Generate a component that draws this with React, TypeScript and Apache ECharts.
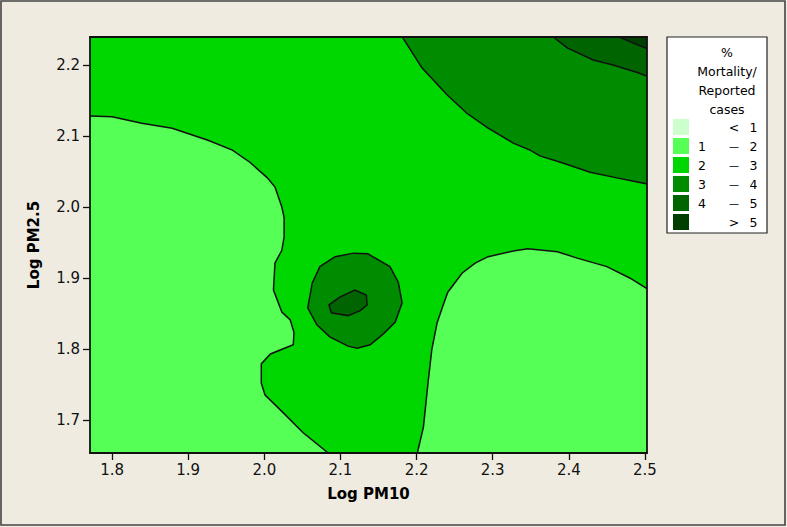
import React, { useEffect, useRef } from "react";
import * as echarts from "echarts";

// ---- axes ----
const xTicks = [1.8, 1.9, 2.0, 2.1, 2.2, 2.3, 2.4, 2.5];
const yTicks = [1.7, 1.8, 1.9, 2.0, 2.1, 2.2];
const xRange = [1.771, 2.5027];
const yRange = [1.6535, 2.2394];
const xTitle = "Log PM10";
const yTitle = "Log PM2.5";

// ---- contour levels (legend) ----
const levelColors = ["#CCFFCC", "#55FF55", "#00D600", "#008C00", "#006400", "#003F00"];
const legendLow = ["", "1", "2", "3", "4", ""];
const legendOp = ["<", "—", "—", "—", "—", ">"];
const legendHigh = ["1", "2", "3", "4", "5", "5"];
const legendTitle = ["%", "Mortality/", "Reported", "cases"];

// ---- contour regions, [Log PM10, Log PM2.5] boundary vertices ----
const domainLevel23 = [[1.70, 1.60], [2.60, 1.60], [2.60, 2.30], [1.70, 2.30]];
const leftLevel12 = [
  [1.75, 2.129], [1.800, 2.127], [1.839, 2.118], [1.879, 2.111], [1.926, 2.094],
  [1.958, 2.080], [1.981, 2.063], [2.004, 2.041], [2.014, 2.028], [2.023, 2.000],
  [2.026, 1.985], [2.026, 1.958], [2.023, 1.939], [2.014, 1.921], [2.012, 1.883],
  [2.023, 1.852], [2.034, 1.841], [2.039, 1.823], [2.038, 1.806], [2.008, 1.793],
  [1.996, 1.779], [1.996, 1.752], [2.001, 1.735], [2.025, 1.710], [2.051, 1.682],
  [2.084, 1.6535], [2.094, 1.645], [1.75, 1.645],
];
const rightLevel12 = [
  [2.198, 1.645], [2.201, 1.6535], [2.209, 1.690], [2.215, 1.752], [2.220, 1.799],
  [2.227, 1.837], [2.235, 1.862], [2.241, 1.880], [2.260, 1.907], [2.277, 1.921],
  [2.294, 1.930], [2.327, 1.938], [2.346, 1.941], [2.385, 1.937], [2.411, 1.928],
  [2.450, 1.916], [2.480, 1.900], [2.510, 1.880], [2.510, 1.645],
];
const topLevel34 = [
  [2.175, 2.25], [2.207, 2.196], [2.240, 2.158], [2.266, 2.132], [2.294, 2.111],
  [2.327, 2.090], [2.349, 2.080], [2.362, 2.072], [2.392, 2.062], [2.428, 2.049],
  [2.463, 2.041], [2.510, 2.031], [2.510, 2.25],
];
const topLevel45 = [
  [2.367, 2.25], [2.398, 2.224], [2.432, 2.207], [2.458, 2.200], [2.491, 2.189],
  [2.510, 2.181], [2.510, 2.25],
];
const topLevel5 = [[2.446, 2.25], [2.467, 2.239], [2.491, 2.228], [2.510, 2.220], [2.510, 2.25]];
const centerLevel34 = [
  [2.057, 1.858], [2.063, 1.893], [2.073, 1.916], [2.093, 1.930], [2.117, 1.935],
  [2.136, 1.934], [2.165, 1.916], [2.176, 1.894], [2.181, 1.865], [2.172, 1.838],
  [2.156, 1.821], [2.139, 1.806], [2.122, 1.801], [2.110, 1.804], [2.086, 1.817],
  [2.069, 1.834],
];
const centerLevel45 = [
  [2.085, 1.862], [2.099, 1.873], [2.119, 1.883], [2.134, 1.876], [2.135, 1.862],
  [2.126, 1.854], [2.110, 1.847], [2.088, 1.851],
];

const regions = [
  { pts: domainLevel23, level: 2, stroke: false },
  { pts: leftLevel12, level: 1, stroke: true },
  { pts: rightLevel12, level: 1, stroke: true },
  { pts: topLevel34, level: 3, stroke: true },
  { pts: topLevel45, level: 4, stroke: true },
  { pts: topLevel5, level: 5, stroke: true },
  { pts: centerLevel34, level: 3, stroke: true },
  { pts: centerLevel45, level: 4, stroke: true },
];

const FONT = "DejaVu Sans";
const GRID = { left: 90, top: 37, width: 557, height: 416 };

export default function App() {
  const ref = useRef<HTMLDivElement>(null);
  useEffect(() => {
    document.body.style.margin = "0";
    const chart = echarts.init(ref.current!, null, { renderer: "svg" });

    const axisLine = { show: true, lineStyle: { color: "#111", width: 1.8 } };
    const legendX = 667, legendY = 37, legendW = 100, legendH = 196;
    const graphics: any[] = [
      {
        type: "rect",
        shape: { x: 1, y: 1, width: 784, height: 524 },
        style: { fill: "none", stroke: "#444", lineWidth: 1.6 },
      },
      {
        type: "rect",
        shape: { x: legendX, y: legendY, width: legendW, height: legendH },
        style: { fill: "#fff", stroke: "#222", lineWidth: 1.2 },
      },
    ];
    legendTitle.forEach((t, i) => {
      graphics.push({
        type: "text", x: 727, y: 52 + i * 19,
        style: { text: t, fill: "#000", font: `12.5px "${FONT}"`, align: "center", verticalAlign: "middle" },
      });
    });
    levelColors.forEach((c, i) => {
      const cy = 127 + i * 19;
      graphics.push({
        type: "rect", shape: { x: 673, y: 119 + i * 19, width: 16, height: 16 },
        style: { fill: c },
      });
      [[legendLow[i], 702], [legendOp[i], 734], [legendHigh[i], 753.5]].forEach(([t, x]) => {
        if (!t) return;
        graphics.push({
          type: "text", x, y: cy,
          style: {
            text: t, fill: "#000",
            font: t === "—" ? `10px "${FONT}"` : `12.5px "${FONT}"`,
            align: "center", verticalAlign: "middle",
          },
        });
      });
    });

    chart.setOption({
      animation: false,
      backgroundColor: "#EFEBE1",
      grid: { ...GRID, containLabel: false },
      xAxis: [
        {
          type: "value", min: xRange[0], max: xRange[1], position: "bottom", z: 10,
          axisLine,
          axisTick: { show: true, length: 7, customValues: xTicks, lineStyle: { color: "#111", width: 1.3 } },
          axisLabel: {
            customValues: xTicks, margin: 9, color: "#111", fontFamily: FONT, fontSize: 15,
            formatter: (v: number) => v.toFixed(1),
          },
          splitLine: { show: false },
          name: xTitle, nameLocation: "middle", nameGap: 33,
          nameTextStyle: { fontFamily: FONT, fontSize: 15, fontWeight: "bold", color: "#000" },
        },
        {
          type: "value", min: xRange[0], max: xRange[1], position: "top", z: 10,
          axisLine, axisTick: { show: false }, axisLabel: { show: false }, splitLine: { show: false },
        },
      ],
      yAxis: [
        {
          type: "value", min: yRange[0], max: yRange[1], position: "left", z: 10,
          axisLine,
          axisTick: { show: true, length: 7, customValues: yTicks, lineStyle: { color: "#111", width: 1.3 } },
          axisLabel: {
            customValues: yTicks, margin: 10, color: "#111", fontFamily: FONT, fontSize: 15,
            formatter: (v: number) => v.toFixed(1),
          },
          splitLine: { show: false },
          name: yTitle, nameLocation: "middle", nameGap: 49,
          nameTextStyle: { fontFamily: FONT, fontSize: 15, fontWeight: "bold", color: "#000" },
        },
        {
          type: "value", min: yRange[0], max: yRange[1], position: "right", z: 10,
          axisLine, axisTick: { show: false }, axisLabel: { show: false }, splitLine: { show: false },
        },
      ],
      series: [
        {
          type: "custom",
          clip: true,
          xAxisIndex: 0,
          yAxisIndex: 0,
          data: regions.map((_, i) => [i]),
          renderItem: (params: any, api: any) => {
            const r = regions[params.dataIndex];
            const points = r.pts.map((p) => api.coord(p));
            return {
              type: "polygon",
              shape: { points },
              style: {
                fill: levelColors[r.level],
                stroke: r.stroke ? "#111" : "none",
                lineWidth: r.stroke ? 1.5 : 0,
              },
            };
          },
        },
      ],
      graphic: graphics,
    });
    return () => chart.dispose();
  }, []);
  return <div ref={ref} style={{ width: 787, height: 527 }} />;
}
